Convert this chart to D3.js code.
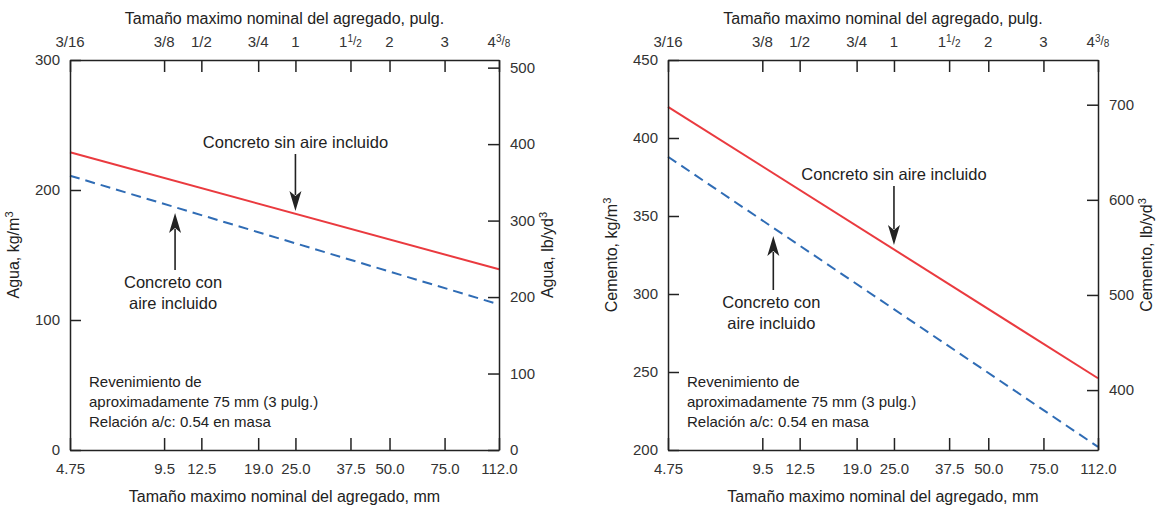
<!DOCTYPE html>
<html>
<head>
<meta charset="utf-8">
<script src="https://cdn.jsdelivr.net/npm/d3@7"></script>
<style>
  body { margin: 0; background: #fff; }
  svg { font-family: "Liberation Sans", Arial, sans-serif; }
  .tick text { fill: #333; font-size: 15px; }
  .axis path, .axis line { stroke: #222; stroke-width: 1.5px; }
</style>
</head>
<body>
<div id="wrapper"></div>
<script>
'use strict';

//#region DATA
const sizesMm = [4.75, 9.5, 12.5, 19.0, 25.0, 37.5, 50.0, 75.0, 112.0];
const sizesMmLabels = ['4.75', '9.5', '12.5', '19.0', '25.0', '37.5', '50.0', '75.0', '112.0'];
const sizesInLabels = ['3/16', '3/8', '1/2', '3/4', '1', '1 1/2', '2', '3', '4 3/8'];

// values at the two ends (4.75 mm and 112 mm)
const endSizes = [4.75, 112.0];
const waterNoAir = [229, 139];
const waterAir = [211, 112];
const cementNoAir = [420, 246];
const cementAir = [388, 202];

const waterKgTicks = [0, 100, 200, 300];
const waterLbTicks = [0, 100, 200, 300, 400, 500];
const cementKgTicks = [200, 250, 300, 350, 400, 450];
const cementLbTicks = [400, 500, 600, 700];

const noteLines = ['Revenimiento de', 'aproximadamente 75 mm (3 pulg.)', 'Relación a/c: 0.54 en masa'];
//#endregion DATA

const wrapper = d3.select('#wrapper').append('svg')
  .attr('width', 1165)
  .attr('height', 509);

function drawPanel (p) {
  const xScale = d3.scaleLog().domain([4.75, 112]).range([p.left, p.right]);
  const yScale = d3.scaleLinear().domain(p.kgDomain).range([p.bottom, p.top]);
  const yScaleLb = d3.scaleLinear().domain(p.lbDomain).range([p.bottom, p.top]);

  const g = wrapper.append('g');

  // lines
  const line = d3.line().x(d => xScale(d[0])).y(d => yScale(d[1]));
  g.append('path')
    .datum(endSizes.map((s, i) => [s, p.noAir[i]]))
    .attr('d', line)
    .attr('fill', 'none')
    .attr('stroke', '#ea3a3f')
    .attr('stroke-width', 2);
  g.append('path')
    .datum(endSizes.map((s, i) => [s, p.air[i]]))
    .attr('d', line)
    .attr('fill', 'none')
    .attr('stroke', '#2f6cb5')
    .attr('stroke-width', 2)
    .attr('stroke-dasharray', '10,6');

  // axes
  const bottomAxis = g.append('g').attr('class', 'axis')
    .attr('transform', `translate(0,${p.bottom})`)
    .call(d3.axisBottom(xScale).tickValues(sizesMm).tickSizeInner(-12).tickSizeOuter(0)
      .tickPadding(13).tickFormat((d, i) => sizesMmLabels[i]));
  bottomAxis.selectAll('text').attr('dy', '0.71em');

  g.append('g').attr('class', 'axis')
    .attr('transform', `translate(0,${p.top})`)
    .call(d3.axisTop(xScale).tickValues(sizesMm).tickSizeInner(-12).tickSizeOuter(0)
      .tickFormat(() => ''));

  // inch labels with small fractions
  sizesInLabels.forEach((lab, i) => {
    const t = g.append('text')
      .attr('x', xScale(sizesMm[i]))
      .attr('y', p.top - 13)
      .attr('text-anchor', 'middle')
      .attr('fill', '#333')
      .attr('font-size', 15);
    if (lab.includes(' ')) {
      const [whole, frac] = lab.split(' ');
      const [num, den] = frac.split('/');
      t.append('tspan').text(whole);
      t.append('tspan').attr('font-size', 10).attr('dy', -5).text(num);
      t.append('tspan').attr('font-size', 12).attr('dy', 3).text('/');
      t.append('tspan').attr('font-size', 10).attr('dy', 2).text(den);
    } else {
      t.text(lab);
    }
  });

  g.append('g').attr('class', 'axis')
    .attr('transform', `translate(${p.left},0)`)
    .call(d3.axisLeft(yScale).tickValues(p.kgTicks).tickSizeInner(-11).tickSizeOuter(0).tickPadding(10));

  g.append('g').attr('class', 'axis')
    .attr('transform', `translate(${p.right},0)`)
    .call(d3.axisRight(yScaleLb).tickValues(p.lbTicks).tickSizeInner(-11).tickSizeOuter(0).tickPadding(11));

  // titles
  const midX = (p.left + p.right) / 2;
  g.append('text')
    .attr('x', midX).attr('y', 24)
    .attr('text-anchor', 'middle').attr('font-size', 16).attr('fill', '#222')
    .text('Tamaño maximo nominal del agregado, pulg.');
  g.append('text')
    .attr('x', midX).attr('y', 502)
    .attr('text-anchor', 'middle').attr('font-size', 16).attr('fill', '#222')
    .text('Tamaño maximo nominal del agregado, mm');

  const midY = (p.top + p.bottom) / 2;
  const yTitle = (x, name, unit, sup) => {
    const t = g.append('text')
      .attr('transform', `translate(${x},${midY}) rotate(-90)`)
      .attr('text-anchor', 'middle').attr('font-size', 16).attr('fill', '#222');
    t.append('tspan').text(`${name}, ${unit}`);
    t.append('tspan').attr('font-size', 11).attr('dy', -6).text(sup);
  };
  yTitle(p.left - 51, p.name, 'kg/m', '3');
  yTitle(p.right + 54, p.name, 'lb/yd', '3');

  // annotations
  const annotate = (lines, tx, ty, ax, ay1, ay2) => {
    const t = g.append('text')
      .attr('x', tx).attr('y', ty)
      .attr('text-anchor', 'middle').attr('font-size', 16.5).attr('fill', '#222');
    lines.forEach((l, i) => t.append('tspan').attr('x', tx).attr('dy', i ? 21 : 0).text(l));
    const dir = ay2 > ay1 ? 1 : -1;
    g.append('line')
      .attr('x1', ax).attr('x2', ax)
      .attr('y1', ay1).attr('y2', ay2 - dir * 16)
      .attr('stroke', '#222').attr('stroke-width', 1.6);
    g.append('path')
      .attr('d', `M${ax},${ay2} L${ax - 6},${ay2 - dir * 20} L${ax},${ay2 - dir * 15} L${ax + 6},${ay2 - dir * 20} Z`)
      .attr('fill', '#222');
  };
  const xa = xScale(25), xb = xScale(10.3);
  annotate(['Concreto sin aire incluido'], xa, p.noAirLabelY, xa, p.noAirLabelY + 6, p.noAirTip);
  annotate(['Concreto con', 'aire incluido'], xb - 2, p.airLabelY, xb, p.airLabelY - 18, p.airTip);

  // notes
  const note = g.append('text')
    .attr('x', p.left + 19).attr('y', 387)
    .attr('font-size', 15).attr('fill', '#222');
  noteLines.forEach((l, i) => note.append('tspan').attr('x', p.left + 19).attr('dy', i ? 20 : 0).text(l));
}

drawPanel({
  left: 70, right: 499, top: 60, bottom: 450,
  kgDomain: [0, 300], lbDomain: [0, 510],
  kgTicks: waterKgTicks, lbTicks: waterLbTicks,
  noAir: waterNoAir, air: waterAir, name: 'Agua',
  noAirLabelY: 148, noAirTip: 211,
  airLabelY: 288, airTip: 213
});

drawPanel({
  left: 668, right: 1098, top: 60, bottom: 450,
  kgDomain: [200, 450], lbDomain: [337, 747],
  kgTicks: cementKgTicks, lbTicks: cementLbTicks,
  noAir: cementNoAir, air: cementAir, name: 'Cemento',
  noAirLabelY: 180, noAirTip: 245,
  airLabelY: 308, airTip: 236
});
</script>
</body>
</html>
